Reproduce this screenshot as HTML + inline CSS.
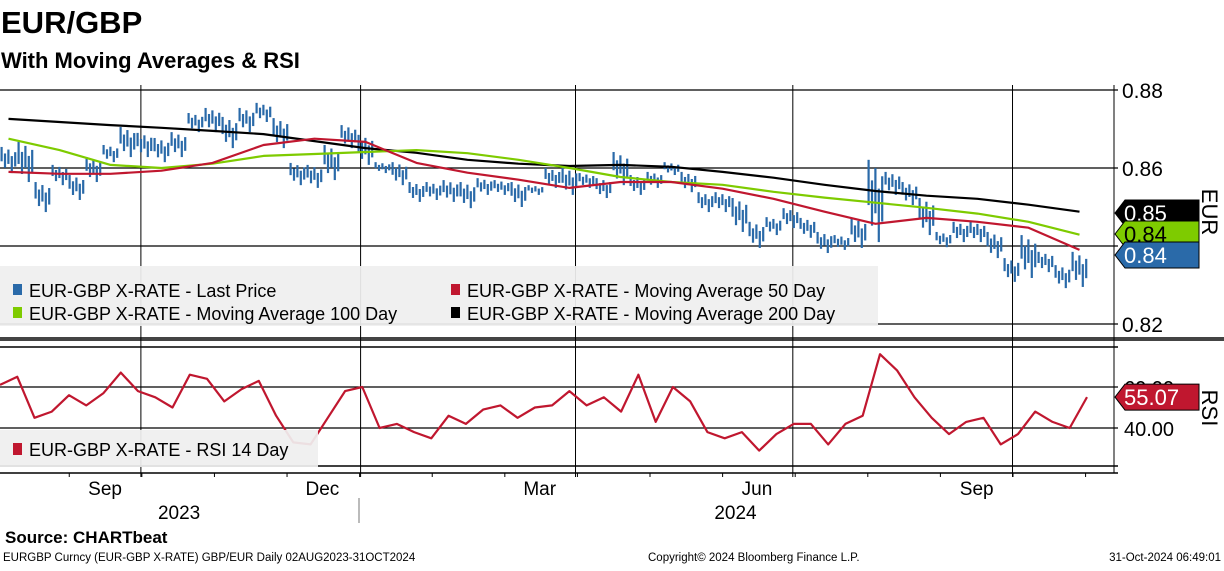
<!DOCTYPE html>
<html><head><meta charset="utf-8">
<style>
body{margin:0;background:#fff;}
svg text{font-family:"Liberation Sans",sans-serif;}
</style></head>
<body>
<svg id="chart" width="1224" height="566" viewBox="0 0 1224 566" xmlns="http://www.w3.org/2000/svg">
<text x="1" y="33" font-size="31" font-weight="bold">EUR/GBP</text>
<text x="1" y="68" font-size="22" font-weight="bold">With Moving Averages &amp; RSI</text>
<g id="grid"></g>
<g id="price"></g>
<g id="mas"></g>
<g id="rsi"></g>
<g id="legend">
  <rect x="0" y="266" width="878" height="60" fill="#efefef" opacity="0.93"/>
  <rect x="13" y="284" width="9" height="11" fill="#2a6aa9"/>
  <text x="29" y="297" font-size="18">EUR-GBP X-RATE - Last Price</text>
  <rect x="451" y="284" width="9" height="11" fill="#c0172f"/>
  <text x="467" y="297" font-size="18">EUR-GBP X-RATE - Moving Average 50 Day</text>
  <rect x="13" y="307" width="9" height="11" fill="#7ecb00"/>
  <text x="29" y="320" font-size="18">EUR-GBP X-RATE - Moving Average 100 Day</text>
  <rect x="451" y="307" width="9" height="11" fill="#000"/>
  <text x="467" y="320" font-size="18">EUR-GBP X-RATE - Moving Average 200 Day</text>
  <rect x="0" y="430" width="318" height="37" fill="#efefef" opacity="0.93"/>
  <rect x="13" y="443" width="9" height="12" fill="#c0172f"/>
  <text x="29" y="456" font-size="18">EUR-GBP X-RATE - RSI 14 Day</text>
</g>
<g id="labels"></g>
<text transform="translate(1202,212) rotate(90)" text-anchor="middle" font-size="22">EUR</text>
<text transform="translate(1202,408) rotate(90)" text-anchor="middle" font-size="22">RSI</text>
<text x="5" y="543" font-size="17" font-weight="bold">Source:  CHARTbeat</text>
<text x="3" y="561" font-size="11.5">EURGBP Curncy (EUR-GBP X-RATE) GBP/EUR  Daily 02AUG2023-31OCT2024</text>
<text x="648" y="561" font-size="11.5">Copyright© 2024 Bloomberg Finance L.P.</text>
<text x="1221" y="561" font-size="11.5" text-anchor="end">31-Oct-2024 06:49:01</text>
</svg>
<script>
// weekly highs/lows of EUR/GBP
const priceHigh=[.8654,.8667,.8564,.8608,.8582,.8628,.8659,.8705,.8690,.8677,.8692,.8741,.8754,.8731,.8754,.8767,.8728,.8613,.8608,.8659,.8710,.8685,.8615,.8615,.8564,.8564,.8569,.8564,.8574,.8569,.8564,.8556,.8600,
.8600,.8587,.8574,.8641,.8582,.8590,.8615,.8590,.8538,.8538,.8523,.8462,.8474,.8497,.8472,.8436,.8428,.8472,.8621,.8590,.8564,.8523,.8436,.8462,.8462,.8436,.8369,.8428,.8385,.8351,.8385];
const priceLow=[.8587,.8564,.8487,.8556,.8518,.8564,.8615,.8628,.8628,.8615,.8628,.8692,.8692,.8651,.8692,.8718,.8651,.8556,.8549,.8569,.8651,.8608,.8587,.8556,.8513,.8518,.8513,.8497,.8531,.8531,.8500,.8531,.8549,
.8531,.8549,.8523,.8556,.8531,.8549,.8582,.8538,.8487,.8487,.8436,.8395,.8428,.8446,.8421,.8382,.8390,.8395,.8410,.8531,.8505,.8428,.8397,.8410,.8410,.8369,.8308,.8318,.8333,.8292,.8295];
// moving averages sampled every 3 weeks
const ma50=[.8590,.8585,.8585,.8593,.8613,.8659,.8675,.8667,.8613,.8588,.8570,.8549,.8564,.8564,.8547,.8521,.8488,.8457,.8472,.8462,.8447,.8390];
const ma100=[.8675,.8646,.8608,.8600,.8611,.8631,.8636,.8641,.8646,.8638,.8621,.8600,.8577,.8564,.8557,.8539,.8524,.8511,.8498,.8483,.8462,.8429];
const ma200=[.8726,.8718,.8710,.8703,.8695,.8687,.8669,.8651,.8639,.8621,.8611,.8605,.8608,.8603,.8590,.8575,.8557,.8541,.8529,.8521,.8506,.8488];
// RSI 14 day
const rsiVals=[61,65,45,48,56,51,57,67,58,55,50,66,64,53,59,63,46,33,32,45,58,60,40,42,38,35,46,42,49,51,45,50,51,58,51,55,48,66,43,60,53,38,35,38,29,37,42,42,32,42,46,76,68,55,45,37,43,45,32,37,48,43,40,55.07];
const priceTicks=[0.88,0.86,0.84,0.82];
const rsiTicks=[60,40];
const monthLabels=["Sep","Dec","Mar","Jun","Sep"];
const monthDays=[44,135,226,317,409];
const quarterDays=[59,151,241,332,424];
const yearLabels=["2023","2024"];
const yearDays=[75,308];
const lastValues=[0.85,0.84,0.84];

const NS="http://www.w3.org/2000/svg";
const PX_DAY=2.388;
const xDay=d=>d*PX_DAY;
const xWeek=i=>(i+0.5)*17;
const xMA=k=>xWeek(k*3);
const xRsi=i=>i*1087/(rsiVals.length-1);
const yP=p=>90+(0.88-p)*3900;
const yR=r=>387-(r-60)*2.05;
function mk(tag,attrs,parent){const e=document.createElementNS(NS,tag);for(const k in attrs)e.setAttribute(k,attrs[k]);parent.appendChild(e);return e;}

const grid=document.getElementById('grid');
mk('line',{x1:0,x2:1224,y1:339,y2:339,stroke:'#444','stroke-width':4},grid);
mk('line',{x1:1114,x2:1114,y1:85,y2:473,stroke:'#000','stroke-width':1},grid);
mk('line',{x1:0,x2:1118,y1:347,y2:347,stroke:'#000','stroke-width':1.5},grid);
mk('line',{x1:0,x2:1118,y1:466,y2:466,stroke:'#000','stroke-width':1.5},grid);
mk('line',{x1:0,x2:1118,y1:473,y2:473,stroke:'#000','stroke-width':1.5},grid);
priceTicks.forEach(p=>{
  const l=mk('line',{x1:0,x2:1118,y1:yP(p),y2:yP(p),stroke:'#000','stroke-width':1.3},grid);
  
  
  const t=mk('text',{x:1122,y:yP(p)+8,'font-size':21},grid);
  t.textContent=p.toFixed(2);
  
  
});
rsiTicks.forEach(r=>{
  const l=mk('line',{x1:0,x2:1118,y1:yR(r),y2:yR(r),stroke:'#000','stroke-width':1.3},grid);
  
  
  const t=mk('text',{x:1124,y:yR(r)+8,'font-size':20},grid);
  t.textContent=r.toFixed(2);
  
  
});
quarterDays.forEach(d=>{
  const l=mk('line',{x1:xDay(d),x2:xDay(d),y1:85,y2:477,stroke:'#000','stroke-width':1},grid);
  
  
});
for(let d=29;d<456;d+=30.4){mk('line',{x1:xDay(d),x2:xDay(d),y1:473,y2:477,stroke:'#000','stroke-width':1},grid);}
monthLabels.forEach((m,i)=>{
  const t=mk('text',{x:xDay(monthDays[i]),y:495,'font-size':19,'text-anchor':'middle'},grid);
  t.textContent=m;
  
  
});
yearLabels.forEach((y,i)=>{
  const t=mk('text',{x:xDay(yearDays[i]),y:519,'font-size':19,'text-anchor':'middle'},grid);
  t.textContent=y;
  
  
});
mk('line',{x1:359,x2:359,y1:498,y2:523,stroke:'#777','stroke-width':1},grid);

// price bars: each weekly range drawn as 5 daily-style bars within the range
const pg=document.getElementById('price');
const subTop=[0.0,0.25,0.1,0.35,0.2];
const subBot=[0.55,0.8,0.65,1.0,0.75];
priceHigh.forEach((h,i)=>{
  const lo=priceLow[i];
  const x=xWeek(i);
  const top=yP(h), span=Math.max(3,yP(lo)-yP(h));
  for(let k=0;k<5;k++){
    const r=mk('rect',{x:x-8+k*3.4,y:top+span*subTop[k],width:2.2,height:Math.max(3,span*(subBot[k]-subTop[k])),fill:'#2a6aa9'},pg);
    
    
  }
});
const mg=document.getElementById('mas');
function line(vals,xf,yf,color,name,parent){
  const d=vals.map((v,i)=>(i?'L':'M')+xf(i).toFixed(1)+' '+yf(v).toFixed(1)).join(' ');
  const p=mk('path',{d:d,fill:'none',stroke:color,'stroke-width':2.2,'stroke-linejoin':'round'},parent);
  
  
}
line(ma200,xMA,yP,'#000','ma200-line',mg);
line(ma100,xMA,yP,'#7ecb00','ma100-line',mg);
line(ma50,xMA,yP,'#c0172f','ma50-line',mg);
line(rsiVals,xRsi,yR,'#c0172f','rsi-line',document.getElementById('rsi'));

const lg=document.getElementById('labels');
function tag(y,bg,fg,name,txt){
  const g=mk('g',{},lg);
  
  
  mk('path',{d:`M1115 ${y} L1125 ${y-13} L1199 ${y-13} L1199 ${y+13} L1125 ${y+13} Z`,fill:bg,stroke:'#000','stroke-width':1},g);
  const t=mk('text',{x:1124,y:y+8,'font-size':22,fill:fg},g);
  t.textContent=txt;
}
tag(213,'#000','#fff','ma200-value-label',lastValues[0].toFixed(2));
tag(234,'#7ecb00','#000','ma100-value-label',lastValues[1].toFixed(2));
tag(255,'#2a6aa9','#fff','last-price-value-label',lastValues[2].toFixed(2));
tag(yR(rsiVals[rsiVals.length-1]),'#c0172f','#fff','rsi-value-label',rsiVals[rsiVals.length-1].toFixed(2));
</script>
</body></html>
